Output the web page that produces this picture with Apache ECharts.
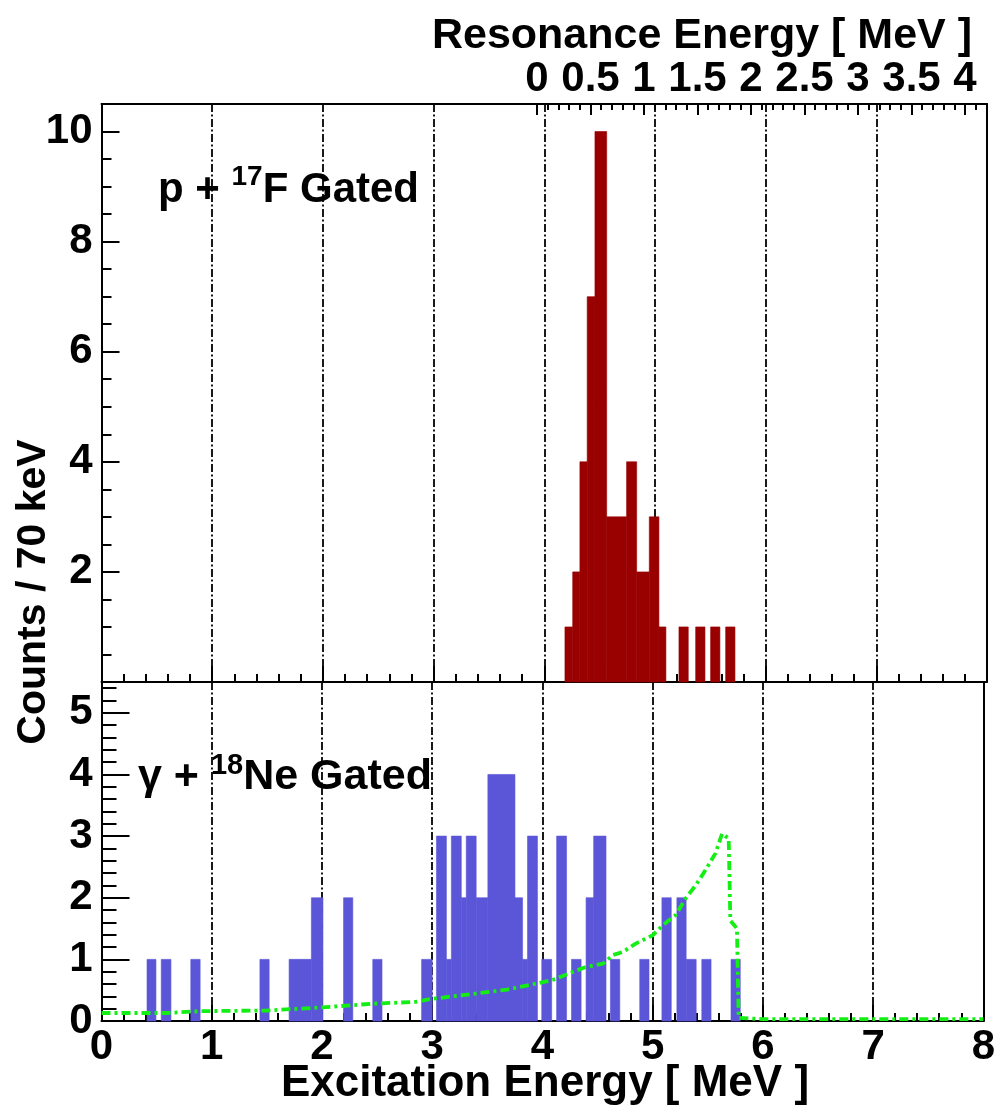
<!DOCTYPE html>
<html>
<head>
<meta charset="utf-8">
<script src="https://cdn.jsdelivr.net/npm/echarts@6/dist/echarts.min.js"></script>
<style>
  html, body { margin: 0; padding: 0; background: #fff; }
  #chart { width: 998px; height: 1105px; }
</style>
</head>
<body>
<div id="chart"></div>
<script>
// ---- p + 17F gated spectrum: bin edges (MeV) and counts ----
const protonLo     = [4.187, 4.257, 4.322, 4.388, 4.458, 4.564, 4.744, 4.835, 4.949, 5.036, 5.217, 5.368, 5.503, 5.639];
const protonHi     = [4.257, 4.322, 4.388, 4.458, 4.564, 4.744, 4.835, 4.949, 5.036, 5.099, 5.301, 5.452, 5.587, 5.723];
const protonCounts = [1, 2, 4, 7, 10, 3, 4, 2, 3, 1, 1, 1, 1, 1];

// ---- gamma + 18Ne gated spectrum: bin edges (MeV) and counts ----
const gammaLo = [0.413, 0.542, 0.810, 1.437, 1.702, 1.904, 2.196, 2.461, 2.904, 3.039, 3.129, 3.174, 3.264, 3.309, 3.399, 3.505,
                 3.751, 3.820, 3.865, 3.994, 4.129, 4.264, 4.396, 4.465, 4.617, 4.883, 5.084, 5.220, 5.304, 5.446, 5.711];
const gammaHi = [0.494, 0.630, 0.895, 1.521, 1.904, 2.009, 2.280, 2.545, 3.000, 3.129, 3.174, 3.264, 3.309, 3.399, 3.505, 3.751,
                 3.820, 3.865, 3.955, 4.084, 4.219, 4.351, 4.465, 4.577, 4.702, 4.967, 5.169, 5.304, 5.395, 5.530, 5.795];
const gammaCounts = [1, 1, 1, 1, 1, 2, 2, 1, 1, 3, 1, 3, 2, 3, 2, 4,
                     2, 1, 3, 1, 3, 1, 2, 3, 1, 1, 2, 2, 1, 1, 1];

// ---- simulated efficiency curve (green) ----
const curveE = [0, 0.6, 0.9, 1.5, 2.0, 2.45, 2.85, 3.0, 3.37, 3.68, 3.95, 4.1, 4.28, 4.4, 4.55, 4.64, 4.73, 4.85, 5.0,
                5.09, 5.21, 5.3, 5.39, 5.48, 5.57, 5.63, 5.69, 5.705, 5.765, 5.78, 6.0, 7.0, 8.0];
const curveY = [0.13, 0.13, 0.16, 0.17, 0.22, 0.28, 0.31, 0.36, 0.44, 0.51, 0.61, 0.67, 0.80, 0.88, 0.93, 1.07, 1.12, 1.26, 1.39,
                1.55, 1.72, 1.99, 2.20, 2.45, 2.72, 3.04, 2.96, 1.63, 1.50, 0.05, 0.03, 0.03, 0.03];

// ---- tick values ----
const topYMajor = [2, 4, 6, 8, 10];
const topYMinor = [0.5, 1, 1.5, 2.5, 3, 3.5, 4.5, 5, 5.5, 6.5, 7, 7.5, 8.5, 9, 9.5, 10.5];
const botYMajor = [0, 1, 2, 3, 4, 5];
const botYMinor = [0.2, 0.4, 0.6, 0.8, 1.2, 1.4, 1.6, 1.8, 2.2, 2.4, 2.6, 2.8, 3.2, 3.4, 3.6, 3.8, 4.2, 4.4, 4.6, 4.8, 5.2, 5.4];
const resMajor = [0, 0.5, 1, 1.5, 2, 2.5, 3, 3.5, 4];
const resMinor = [0.1, 0.2, 0.3, 0.4, 0.6, 0.7, 0.8, 0.9, 1.1, 1.2, 1.3, 1.4, 1.6, 1.7, 1.8, 1.9, 2.1, 2.2, 2.3, 2.4,
                  2.6, 2.7, 2.8, 2.9, 3.1, 3.2, 3.3, 3.4, 3.6, 3.7, 3.8, 3.9, 4.1];
// resonance-energy scale spanned by the excitation range 0..8 MeV
const resMin = -4.07, resMax = 4.206;

const FONT = '"Liberation Sans", Arial, Helvetica, sans-serif';
const RED = '#990000', BLUE = '#5b56d8', GREEN = '#14ee14';
const DASHDOT = [8, 2.5, 2, 2.5];

const chart = echarts.init(document.getElementById('chart'), null, { renderer: 'canvas' });

// one filled rectangle per histogram bin
function histRender(color) {
  return function (params, api) {
    const a = api.coord([api.value(0), api.value(2)]);
    const b = api.coord([api.value(1), 0]);
    return {
      type: 'rect',
      shape: { x: a[0], y: a[1], width: b[0] - a[0], height: b[1] - a[1] },
      style: { fill: color, stroke: color, lineWidth: 0.6 }
    };
  };
}

const axisLine = { show: true, onZero: false, lineStyle: { color: '#000', width: 2 } };
const noLine = { show: false, onZero: false };
const labelFont = { color: '#000', fontFamily: FONT, fontWeight: 'bold', fontSize: 42 };

function exAxis(grid, showLabels) {
  return {
    type: 'value', gridIndex: grid, position: 'bottom', min: 0, max: 8, interval: 1,
    axisLine: axisLine,
    axisTick: { show: true, inside: true, length: 16, lineStyle: { color: '#000', width: 2 } },
    minorTick: { show: true, splitNumber: 5, length: 8, lineStyle: { color: '#000', width: 2 } },
    axisLabel: Object.assign({ show: showLabels, margin: 5 }, labelFont),
    splitLine: { show: true, showMinLine: false, showMaxLine: false, lineStyle: { color: '#000', width: 1.8, type: DASHDOT } }
  };
}

function yAxisPair(grid, min, max, major, minor, majLen, minLen) {
  return [
    {
      type: 'value', gridIndex: grid, position: 'left', min: min, max: max,
      axisLine: axisLine,
      axisTick: { show: true, inside: true, length: majLen, customValues: major, lineStyle: { color: '#000', width: 2 } },
      axisLabel: Object.assign({ show: true, margin: 9, customValues: major }, labelFont),
      splitLine: { show: false }
    },
    {
      type: 'value', gridIndex: grid, position: 'left', min: min, max: max,
      axisLine: noLine,
      axisTick: { show: true, inside: true, length: minLen, customValues: minor, lineStyle: { color: '#000', width: 2 } },
      axisLabel: { show: false },
      splitLine: { show: false }
    },
    {
      type: 'value', gridIndex: grid, position: 'right', min: min, max: max,
      axisLine: axisLine, axisTick: { show: false }, axisLabel: { show: false }, splitLine: { show: false }
    }
  ];
}

const option = {
  animation: false,
  backgroundColor: '#fff',
  grid: [
    { left: 101.5, top: 104, width: 885.5, height: 578 },
    { left: 101.5, top: 682, width: 885.5, height: 339 }
  ],
  xAxis: [
    exAxis(0, false),
    {
      type: 'value', gridIndex: 0, position: 'top', min: resMin, max: resMax,
      axisLine: axisLine,
      axisTick: { show: true, inside: true, length: 11, customValues: resMajor, lineStyle: { color: '#000', width: 2 } },
      axisLabel: Object.assign({ show: true, margin: 4, customValues: resMajor }, labelFont),
      splitLine: { show: false }
    },
    {
      type: 'value', gridIndex: 0, position: 'top', min: resMin, max: resMax,
      axisLine: noLine,
      axisTick: { show: true, inside: true, length: 6, customValues: resMinor, lineStyle: { color: '#000', width: 2 } },
      axisLabel: { show: false }, splitLine: { show: false }
    },
    exAxis(1, true)
  ],
  yAxis: [].concat(
    yAxisPair(0, 0, 10.5, topYMajor, topYMinor, 18, 10),
    yAxisPair(1, 0, 5.5, botYMajor, botYMinor, 28, 15)
  ),
  series: [
    {
      type: 'custom', name: 'p + 17F', xAxisIndex: 0, yAxisIndex: 0,
      renderItem: histRender(RED), encode: { x: [0, 1], y: 2 },
      data: protonLo.map((lo, i) => [lo, protonHi[i], protonCounts[i]]), z: 1
    },
    {
      type: 'custom', name: 'gamma + 18Ne', xAxisIndex: 3, yAxisIndex: 3,
      renderItem: histRender(BLUE), encode: { x: [0, 1], y: 2 },
      data: gammaLo.map((lo, i) => [lo, gammaHi[i], gammaCounts[i]]), z: 1
    },
    {
      type: 'line', name: 'simulation', xAxisIndex: 3, yAxisIndex: 3,
      data: curveE.map((e, i) => [e, curveY[i]]),
      symbol: 'none', smooth: false, z: 3,
      lineStyle: { color: GREEN, width: 3.8, type: [9, 4, 3, 4] }
    }
  ],
  graphic: [
    {
      type: 'text', x: 972, y: 36,
      style: { text: 'Resonance Energy [ MeV ]', fill: '#000', font: 'bold 43px ' + FONT, align: 'right', verticalAlign: 'middle' }
    },
    {
      type: 'text', x: 34, y: 592, rotation: Math.PI / 2,
      style: { text: 'Counts / 70 keV', fill: '#000', font: 'bold 41px ' + FONT, align: 'center', verticalAlign: 'middle' }
    },
    {
      type: 'text', x: 545, y: 1084,
      style: { text: 'Excitation Energy [ MeV ]', fill: '#000', font: 'bold 44px ' + FONT, align: 'center', verticalAlign: 'middle' }
    },
    {
      type: 'text', x: 158, y: 187,
      style: {
        text: '{a|p + }{s|17}{a|F Gated}', align: 'left', verticalAlign: 'middle',
        rich: {
          a: { fontFamily: FONT, fontWeight: 'bold', fontSize: 42, fill: '#000', lineHeight: 48, verticalAlign: 'bottom' },
          s: { fontFamily: FONT, fontWeight: 'bold', fontSize: 28, fill: '#000', lineHeight: 48, verticalAlign: 'top' }
        }
      }
    },
    {
      type: 'text', x: 138, y: 775,
      style: {
        text: '{a|\u03b3 + }{s|18}{a|Ne Gated}', align: 'left', verticalAlign: 'middle',
        rich: {
          a: { fontFamily: FONT, fontWeight: 'bold', fontSize: 43, fill: '#000', lineHeight: 48, verticalAlign: 'bottom' },
          s: { fontFamily: FONT, fontWeight: 'bold', fontSize: 29, fill: '#000', lineHeight: 48, verticalAlign: 'top' }
        }
      }
    }
  ]
};

chart.setOption(option);
</script>
</body>
</html>
